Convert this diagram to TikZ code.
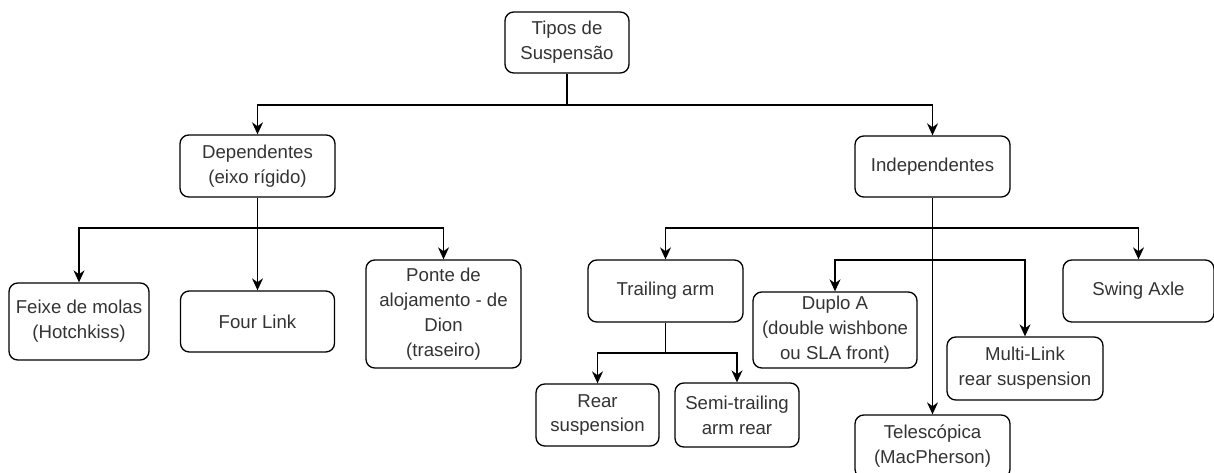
\documentclass[tikz,border=0pt]{standalone}
\usepackage{fontspec}
\setmainfont{Liberation Sans}
\usetikzlibrary{arrows.meta,positioning}

\begin{document}
\begin{tikzpicture}[
  block/.style={rectangle, rounded corners=5pt, draw=black, line width=0.75pt, align=center, text=black!80, font=\fontsize{10.6}{14.2}\selectfont, inner sep=2pt},
  arrow/.style={-{Stealth[length=2.4mm,width=2.2mm]}, line width=0.75pt},
  line/.style={line width=0.75pt}
]
\useasboundingbox (0,0) rectangle (24.28,-9.44);

% levels of the connectors
\coordinate (r1) at (0,-2.1);
\coordinate (r2) at (0,-4.56);
\coordinate (r3) at (0,-5.2);
\coordinate (r4) at (0,-7.06);

\node[block, minimum width=2.48cm, minimum height=1.22cm] (tipos) at (11.34,-0.85) {Tipos de\\Suspensão};
\node[block, minimum width=3.1cm, minimum height=1.24cm] (dep) at (5.15,-3.32) {Dependentes\\(eixo rígido)};
\node[block, minimum width=3.1cm, minimum height=1.22cm] (indep) at (18.65,-3.33) {Independentes};

\node[block, minimum width=2.8cm, minimum height=1.54cm] (feixe) at (1.58,-6.43) {Feixe de molas\\(Hotchkiss)};
\node[block, minimum width=3.08cm, minimum height=1.22cm] (four) at (5.15,-6.43) {Four Link};
\node[block, minimum width=3.1cm, minimum height=2.16cm] (ponte) at (8.87,-6.28) {Ponte de\\alojamento - de\\Dion\\(traseiro)};

\node[block, minimum width=3.1cm, minimum height=1.24cm] (trail) at (13.31,-5.82) {Trailing arm};
\node[block, minimum width=3.28cm, minimum height=1.52cm] (duplo) at (16.7,-6.6) {Duplo A\\(double wishbone\\ou SLA front)};
\node[block, minimum width=3.12cm, minimum height=1.26cm] (multi) at (20.5,-7.37) {Multi-Link\\rear suspension};
\node[block, minimum width=3.02cm, minimum height=1.24cm] (swing) at (22.77,-5.82) {Swing Axle};
\node[block, minimum width=3.1cm, minimum height=1.26cm] (tele) at (18.65,-8.93) {Telescópica\\(MacPherson)};

\node[block, minimum width=2.46cm, minimum height=1.24cm] (rear) at (11.95,-8.3) {Rear\\suspension};
\node[block, minimum width=2.48cm, minimum height=1.28cm] (semi) at (14.74,-8.3) {Semi-trailing\\arm rear};

\draw[line] (tipos.south) -- (tipos.south |- r1);
\draw[arrow] (tipos.south |- r1) -| (dep.north);
\draw[arrow] (tipos.south |- r1) -| (indep.north);

\draw[arrow] (dep.south) -- (four.north);
\draw[arrow] (dep.south |- r2) -| (feixe.north);
\draw[arrow] (dep.south |- r2) -| (ponte.north);

\draw[arrow] (indep.south) -- (tele.north);
\draw[arrow] (indep.south |- r2) -| (trail.north);
\draw[arrow] (indep.south |- r2) -| (swing.north);
\draw[arrow] (indep.south |- r3) -| (duplo.north);
\draw[arrow] (indep.south |- r3) -| (multi.north);

\draw[line] (trail.south) -- (trail.south |- r4);
\draw[arrow] (trail.south |- r4) -| (rear.north);
\draw[arrow] (trail.south |- r4) -| (semi.north);
\end{tikzpicture}
\end{document}
